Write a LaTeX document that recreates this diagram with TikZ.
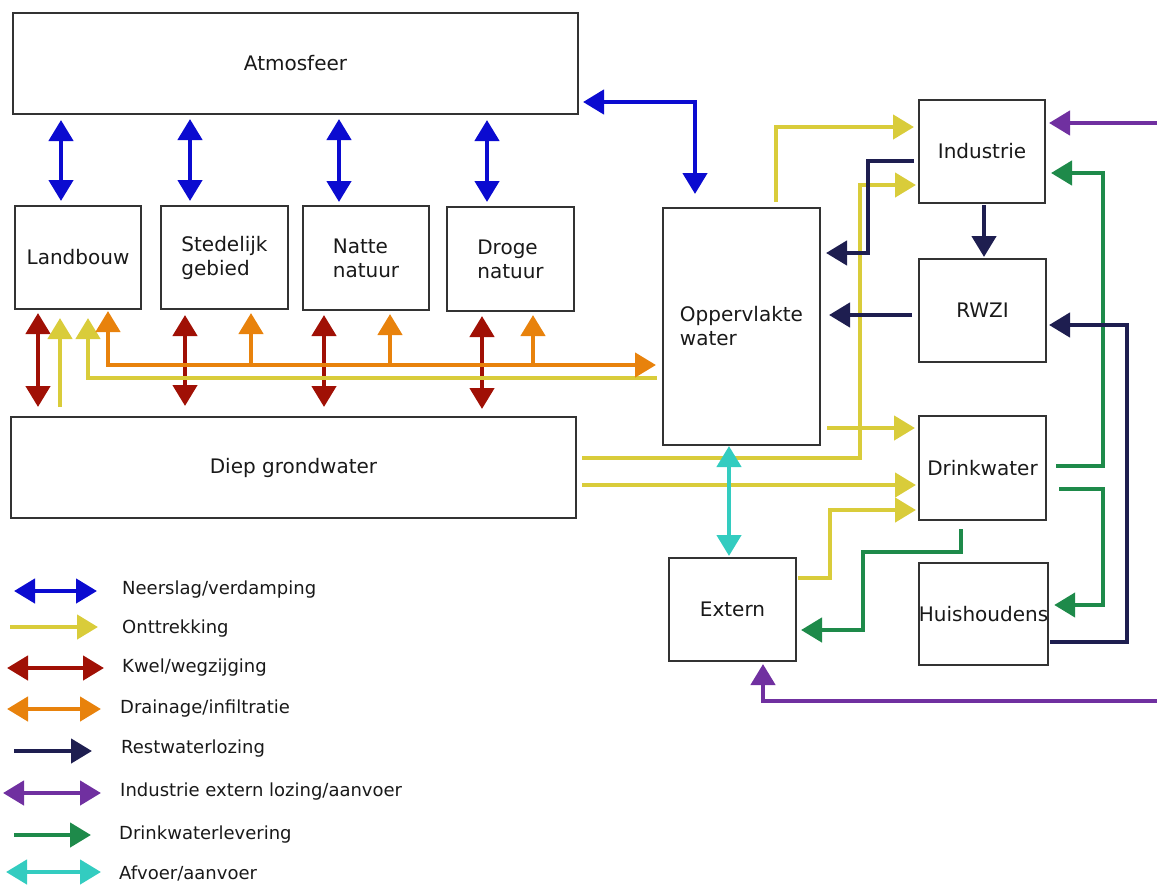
\documentclass[tikz,border=0pt]{standalone}
\usepackage{fontspec}
\setmainfont{DejaVu Sans}
\usetikzlibrary{arrows.meta}
\definecolor{cblue}{HTML}{0B0BD0}
\definecolor{cyel}{HTML}{D9CC3A}
\definecolor{cred}{HTML}{A01005}
\definecolor{corg}{HTML}{E8820C}
\definecolor{cnavy}{HTML}{1E1E50}
\definecolor{cpur}{HTML}{7030A0}
\definecolor{cgrn}{HTML}{1E8A4A}
\definecolor{ccyan}{HTML}{33CCC0}
\definecolor{cbox}{HTML}{333333}
\tikzset{
  >={Triangle[width=24pt,length=21pt]},
  box/.style={draw=cbox, line width=2pt, fill=white, align=left, inner sep=0pt,
    font=\fontsize{20}{24}\selectfont, text=black!90},
  flow/.style={line width=4.5pt},
  fblue/.style={flow, draw=cblue},
  fyel/.style={flow, draw=cyel},
  fred/.style={flow, draw=cred},
  forg/.style={flow, draw=corg},
  fnavy/.style={flow, draw=cnavy},
  fpur/.style={flow, draw=cpur},
  fgrn/.style={flow, draw=cgrn},
  fcyan/.style={flow, draw=ccyan},
  legtext/.style={anchor=west, inner sep=0pt, font=\fontsize{18}{21}\selectfont, text=black!90},
}
\begin{document}
\begin{tikzpicture}[x=1pt,y=-1pt]
\useasboundingbox (0,0) rectangle (1157,884);
% boxes
\node[box, minimum width=565pt, minimum height=101pt] (atm) at (295.5,63.5) {Atmosfeer};
\node[box, minimum width=126pt, minimum height=103pt] (land) at (78,257.5) {Landbouw};
\node[box, minimum width=127pt, minimum height=103pt] (sted) at (224.5,257.5) {Stedelijk\\gebied};
\node[box, minimum width=126pt, minimum height=104pt] (natte) at (366,258) {Natte\\natuur};
\node[box, minimum width=127pt, minimum height=104pt] (droge) at (510.5,259) {Droge\\natuur};
\node[box, minimum width=157pt, minimum height=237pt] (opp) at (741.5,326.5) {Oppervlakte\\water};
\node[box, minimum width=126pt, minimum height=103pt] (ind) at (982,151.5) {Industrie};
\node[box, minimum width=127pt, minimum height=103pt] (rwzi) at (982.5,310.5) {RWZI};
\node[box, minimum width=127pt, minimum height=104pt] (drink) at (982.5,468) {Drinkwater};
\node[box, minimum width=127pt, minimum height=102pt] (huis) at (983.5,614) {Huishoudens};
\node[box, minimum width=127pt, minimum height=103pt] (ext) at (732.5,609.5) {Extern};
\node[box, minimum width=565pt, minimum height=101pt] (diep) at (293.5,467.5) {Diep grondwater};
% free ends
\coordinate (ob1) at (251,365);
\coordinate (ob2) at (390,365);
\coordinate (ob3) at (533,365);
\coordinate (pr1) at (1157,123);
\coordinate (pr2) at (1157,701);
% blue: neerslag/verdamping
\draw[fblue,<->,shorten <=5pt,shorten >=4pt] (61,0 |- atm.south) -- (61,0 |- land.north);
\draw[fblue,<->,shorten <=4pt,shorten >=4pt] (190,0 |- atm.south) -- (190,0 |- sted.north);
\draw[fblue,<->,shorten <=4pt,shorten >=3pt] (339,0 |- atm.south) -- (339,0 |- natte.north);
\draw[fblue,<->,shorten <=5pt,shorten >=4pt] (487,0 |- atm.south) -- (487,0 |- droge.north);
\draw[fblue,<->,shorten <=4pt,shorten >=13pt] (atm.east |- 0,102) -| (695,0 |- opp.north);
% red: kwel/wegzijging
\draw[fred,<->,shorten <=3pt,shorten >=9pt] (38,0 |- land.south) -- (38,0 |- diep.north);
\draw[fred,<->,shorten <=5pt,shorten >=10pt] (185,0 |- sted.south) -- (185,0 |- diep.north);
\draw[fred,<->,shorten <=4pt,shorten >=9pt] (324,0 |- natte.south) -- (324,0 |- diep.north);
\draw[fred,<->,shorten <=4pt,shorten >=7pt] (482,0 |- droge.south) -- (482,0 |- diep.north);
% yellow left
\draw[fyel,->,shorten <=9pt,shorten >=8pt] (60,0 |- diep.north) -- (60,0 |- land.south);
\draw[fyel,->,shorten <=5pt,shorten >=8pt] (opp.west |- 0,378) -| (88,0 |- land.south);
% orange
\draw[forg,<->,shorten <=1pt,shorten >=6pt] (108,0 |- land.south) |- (opp.west |- 0,365);
\draw[forg,->,shorten >=3pt] (ob1) -- (251,0 |- sted.south);
\draw[forg,->,shorten >=3pt] (ob2) -- (390,0 |- natte.south);
\draw[forg,->,shorten >=3pt] (ob3) -- (533,0 |- droge.south);
% yellow right
\draw[fyel,->,shorten <=5pt,shorten >=4pt] (776,0 |- opp.north) |- (ind.west |- 0,127);
\draw[fyel,->,shorten <=5pt,shorten >=2pt] (diep.east |- 0,458) -| (860,185) -- (ind.west |- 0,185);
\draw[fyel,->,shorten <=6pt,shorten >=3pt] (opp.east |- 0,428) -- (drink.west |- 0,428);
\draw[fyel,->,shorten <=5pt,shorten >=2pt] (diep.east |- 0,485) -- (drink.west |- 0,485);
\draw[fyel,->,shorten <=1pt,shorten >=2pt] (ext.east |- 0,578) -| (830,510) -- (drink.west |- 0,510);
% cyan
\draw[fcyan,<->,shorten >=1pt] (729,0 |- opp.south) -- (729,0 |- ext.north);
% green
\draw[fgrn,->,shorten <=9pt,shorten >=5pt] (drink.east |- 0,466) -| (1103,173) -- (ind.east |- 0,173);
\draw[fgrn,->,shorten <=12pt,shorten >=5pt] (drink.east |- 0,489) -| (1103,605) -- (huis.east |- 0,605);
\draw[fgrn,->,shorten <=8pt,shorten >=4pt] (961,0 |- drink.south) -- (961,552) -| (863,630) -- (ext.east |- 0,630);
% navy
\draw[fnavy,->,shorten <=4pt,shorten >=5pt] (ind.west |- 0,161) -| (868,253) -- (opp.east |- 0,253);
\draw[fnavy,->,shorten <=6pt,shorten >=8pt] (rwzi.west |- 0,315) -- (opp.east |- 0,315);
\draw[fnavy,->,shorten <=1pt,shorten >=1pt] (984,0 |- ind.south) -- (984,0 |- rwzi.north);
\draw[fnavy,->,shorten <=1pt,shorten >=2pt] (huis.east |- 0,642) -| (1127,325) -- (rwzi.east |- 0,325);
% purple
\draw[fpur,->,shorten >=3pt] (pr1) -- (ind.east |- 0,123);
\draw[fpur,->,shorten >=2pt] (pr2) -| (763,0 |- ext.south);
% legend
\coordinate (l1a) at (14,591); \coordinate (l1b) at (97,591);
\coordinate (l2a) at (10,627); \coordinate (l2b) at (98,627);
\coordinate (l3a) at (7,668); \coordinate (l3b) at (104,668);
\coordinate (l4a) at (7,709); \coordinate (l4b) at (101,709);
\coordinate (l5a) at (14,751); \coordinate (l5b) at (92,751);
\coordinate (l6a) at (3,793); \coordinate (l6b) at (101,793);
\coordinate (l7a) at (14,835); \coordinate (l7b) at (91,835);
\coordinate (l8a) at (6,872); \coordinate (l8b) at (101,872);
\draw[fblue,<->] (l1a) -- (l1b);
\draw[fyel,->] (l2a) -- (l2b);
\draw[fred,<->] (l3a) -- (l3b);
\draw[forg,<->] (l4a) -- (l4b);
\draw[fnavy,->] (l5a) -- (l5b);
\draw[fpur,<->] (l6a) -- (l6b);
\draw[fgrn,->] (l7a) -- (l7b);
\draw[fcyan,<->] (l8a) -- (l8b);
\node[legtext] (t1) at (122,590) {Neerslag/verdamping};
\node[legtext] (t2) at (122,629) {Onttrekking};
\node[legtext] (t3) at (122,668) {Kwel/wegzijging};
\node[legtext] (t4) at (120,709) {Drainage/infiltratie};
\node[legtext] (t5) at (121,749) {Restwaterlozing};
\node[legtext] (t6) at (120,792) {Industrie extern lozing/aanvoer};
\node[legtext] (t7) at (119,835) {Drinkwaterlevering};
\node[legtext] (t8) at (119,873) {Afvoer/aanvoer};
\end{tikzpicture}
\end{document}
